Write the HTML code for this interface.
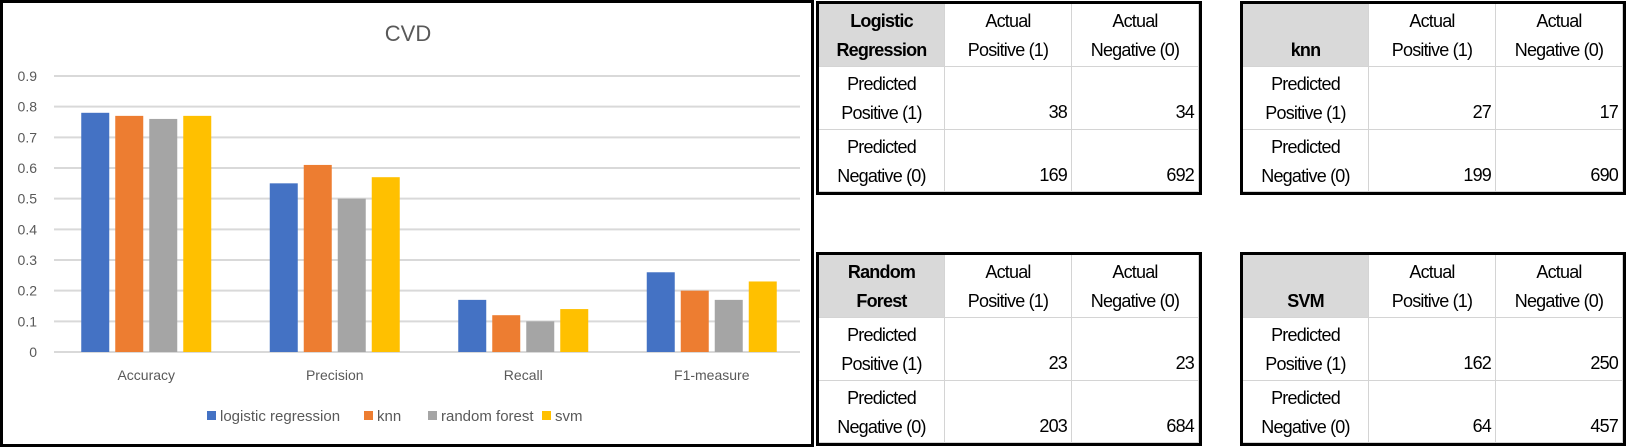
<!DOCTYPE html>
<html><head><meta charset="utf-8"><style>
body{margin:0;width:1626px;height:447px;background:#fff;overflow:hidden;position:relative;font-family:"Liberation Sans",sans-serif}
.tbl{position:absolute;border:3px solid #000;box-sizing:border-box;background:#fff}
.c{position:absolute;box-sizing:border-box;border-right:1px solid #d4d4d4;border-bottom:1px solid #d4d4d4;font-size:18px;color:#000;line-height:29px;text-align:center;letter-spacing:-0.8px;white-space:nowrap}
.hd{background:#d9d9d9;font-weight:bold}
.n{text-align:right;padding-right:4px}
</style></head><body>
<svg id="chart" width="814" height="447" style="position:absolute;left:0;top:0">
<rect x="1.5" y="1.5" width="811" height="444" fill="#fff" stroke="#000" stroke-width="3"/>
<text x="408" y="41" text-anchor="middle" font-size="22" fill="#595959" font-family="Liberation Sans, sans-serif">CVD</text>
<g id="grid"></g><g id="bars"></g><g id="labels"></g><g id="legend"></g>
</svg>
<div id="tables"></div>
<script>
const categories=["Accuracy","Precision","Recall","F1-measure"];
const seriesNames=["logistic regression","knn","random forest","svm"];
const logistic=[0.78,0.55,0.17,0.26];
const knn=[0.77,0.61,0.12,0.20];
const forest=[0.76,0.50,0.10,0.17];
const svm=[0.77,0.57,0.14,0.23];
const ticks=["0","0.1","0.2","0.3","0.4","0.5","0.6","0.7","0.8","0.9"];
const colors=["#4472c4","#ed7d31","#a5a5a5","#ffc000"];
const series=[logistic,knn,forest,svm];
const NS="http://www.w3.org/2000/svg";
const x0=52,x1=806,y0=352,yTop=76,yMax=0.9;
const y=v=>y0-(v/yMax)*(y0-yTop);
const catW=(x1-x0)/categories.length;
function mk(t,a,p){const e=document.createElementNS(NS,t);for(const k in a)e.setAttribute(k,a[k]);p.appendChild(e);return e;}
const grid=document.getElementById('grid'),bars=document.getElementById('bars'),labels=document.getElementById('labels'),legend=document.getElementById('legend');
ticks.forEach(t=>{const v=parseFloat(t);
 const l=mk('line',{x1:54,x2:800,y1:y(v),y2:y(v),stroke:'#d9d9d9','stroke-width':2},grid);
 
 
 const tx=mk('text',{x:37,y:y(v)+5,'text-anchor':'end','font-size':14,fill:'#595959'},labels);tx.textContent=t;
 
 
});
const bw=28,gap=6,groupW=4*bw+3*gap;
categories.forEach((c,i)=>{
 const gx=x0+i*catW+(catW-groupW)/2;
 series.forEach((s,j)=>{
  const r=mk('rect',{x:gx+j*(bw+gap),y:y(s[i]),width:bw,height:y0-y(s[i]),fill:colors[j]},bars);
  
  
 });
 const t=mk('text',{x:x0+i*catW+catW/2,y:380,'text-anchor':'middle','font-size':14,fill:'#595959'},labels);t.textContent=c;
 
 
});
let lx=207;const lw=[137,44,94,40];
seriesNames.forEach((n,j)=>{
 const r=mk('rect',{x:lx,y:411,width:9,height:9,fill:colors[j]},legend);
 
 
 const t=mk('text',{x:lx+13,y:421,'font-size':15,fill:'#595959'},legend);t.textContent=n;
 
 
 lx+=lw[j]+20;
});
const tables=[
 {name:"Logistic<br>Regression",x:816,y:1,vals:[38,34,169,692]},
 {name:"knn",x:1240,y:1,vals:[27,17,199,690]},
 {name:"Random<br>Forest",x:816,y:252,vals:[23,23,203,684]},
 {name:"SVM",x:1240,y:252,vals:[162,250,64,457]}];
const cont=document.getElementById('tables');
tables.forEach(t=>{
 const d=document.createElement('div');d.className='tbl';
 
 
 d.style.left=t.x+'px';d.style.top=t.y+'px';d.style.width='386px';d.style.height='194px';
 const cw=[126,127,127],rh=[63,63,62];
 const cells=[[t.name,"Actual<br>Positive (1)","Actual<br>Negative (0)"],["Predicted<br>Positive (1)",t.vals[0],t.vals[1]],["Predicted<br>Negative (0)",t.vals[2],t.vals[3]]];
 let yy=0;
 cells.forEach((row,r)=>{let xx=0;row.forEach((v,c)=>{
  const e=document.createElement('div');e.className='c'+(r===0&&c===0?' hd':'')+(r>0&&c>0?' n':'');
  
  
  e.style.left=xx+'px';e.style.top=yy+'px';e.style.width=cw[c]+'px';e.style.height=rh[r]+'px';
  e.style.paddingTop=(r>0&&c>0?'31px':'3px');
  if(c===0&&r===0&&t.name.indexOf('<br>')<0)e.style.paddingTop='32px';
  e.innerHTML=v;d.appendChild(e);xx+=cw[c];});yy+=rh[r];});
 cont.appendChild(d);
});
</script>
</body></html>
